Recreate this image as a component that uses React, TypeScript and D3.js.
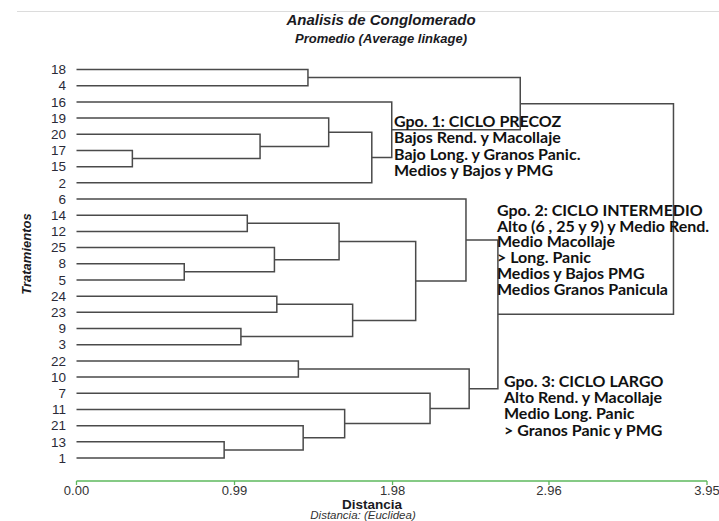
import React from "react";
import * as d3 from "d3";

const leaves = ["18","4","16","19","20","17","15","2","6","14","12","25","8","5","24","23","9","3","22","10","7","11","21","13","1"];

// [childA, childB, distance]; "mN" refers to the N-th merge
const merges: [string, string, number][] = [
  ["17", "15", 0.35],
  ["20", "m0", 1.15],
  ["19", "m1", 1.58],
  ["m2", "2", 1.85],
  ["16", "m3", 1.975],
  ["18", "4", 1.45],
  ["m5", "m4", 2.78],
  ["14", "12", 1.07],
  ["8", "5", 0.675],
  ["25", "m8", 1.24],
  ["m7", "m9", 1.645],
  ["24", "23", 1.255],
  ["9", "3", 1.03],
  ["m11", "m12", 1.73],
  ["m10", "m13", 2.125],
  ["6", "m14", 2.44],
  ["22", "10", 1.39],
  ["13", "1", 0.925],
  ["21", "m17", 1.42],
  ["11", "m18", 1.68],
  ["7", "m19", 2.215],
  ["m16", "m20", 2.46],
  ["m15", "m21", 2.64],
  ["m6", "m22", 3.74],
];

const tickValues = [0, 0.99, 1.98, 2.96, 3.95];

const group1 = ["Gpo. 1: CICLO PRECOZ", "Bajos Rend. y Macollaje", "Bajo Long. y Granos Panic.", "Medios y Bajos y PMG"];
const group2 = ["Gpo. 2: CICLO INTERMEDIO", "Alto (6 , 25 y 9) y Medio Rend.", "Medio Macollaje", "> Long. Panic", "Medios y Bajos PMG", "Medios Granos Panicula"];
const group3 = ["Gpo. 3: CICLO LARGO", "Alto Rend. y Macollaje", "Medio Long. Panic", "> Granos Panic y PMG"];

export default function App() {
  const W = 719, H = 521;
  const x = d3.scaleLinear().domain([0, 3.95]).range([76.5, 707]);
  const y = d3.scalePoint<string>().domain(leaves).range([69.5, 458]);

  const pos: Record<string, { x: number; y: number }> = {};
  leaves.forEach((l) => (pos[l] = { x: x(0), y: y(l)! }));
  const paths: string[] = [];
  merges.forEach(([a, b, h], i) => {
    const pa = pos[a], pb = pos[b];
    const xm = x(h);
    const p = d3.path();
    p.moveTo(pa.x, pa.y);
    p.lineTo(xm, pa.y);
    p.lineTo(xm, pb.y);
    p.lineTo(pb.x, pb.y);
    paths.push(p.toString());
    pos["m" + i] = { x: xm, y: (pa.y + pb.y) / 2 };
  });

  const annFont = "Lato, 'Open Sans', sans-serif";
  const txt = "#111";
  const axisY = 481;
  const green = "#5cb85c";

  return (
    <svg width={W} height={H} style={{ position: "absolute", left: 0, top: 0, background: "#fff" }} fontFamily="'Liberation Sans', Arial, sans-serif">
      <rect width={W} height={H} fill="#fff" />
      <line x1={17} x2={W} y1={11.5} y2={11.5} stroke="#dcdcdc" strokeWidth={1} />
      <text x={381} y={25} textAnchor="middle" fontSize={15} fontWeight="bold" fontStyle="italic" fill="#1a1a22">Analisis de Conglomerado</text>
      <text x={381} y={43} textAnchor="middle" fontSize={13} fontWeight="bold" fontStyle="italic" fill="#1a1a22">Promedio (Average linkage)</text>

      {leaves.map((l) => (
        <text key={l} x={66} y={y(l)!} dy="0.35em" textAnchor="end" fontSize={13.5} fill="#2a2a38">{l}</text>
      ))}

      <text transform={`translate(26,254) rotate(-90)`} textAnchor="middle" dy="0.35em" fontSize={13} fontWeight="bold" fontStyle="italic" fill="#1a1a22">Tratamientos</text>

      <g fill="none" stroke="#4a4a4a" strokeWidth={1.5}>
        {paths.map((d, i) => <path key={i} d={d} />)}
      </g>

      <g fontFamily={annFont} fontWeight={700} fontSize={16} fill={txt}>
        {group1.map((t, i) => <text key={t} x={394} y={127 + i * 16.3}>{t}</text>)}
        {group2.map((t, i) => <text key={t} x={497} y={216 + i * 15.7}>{t}</text>)}
        {group3.map((t, i) => <text key={t} x={504} y={387.2 + i * 16.1}>{t}</text>)}
      </g>

      <line x1={x(0)} x2={x(3.95)} y1={axisY} y2={axisY} stroke={green} strokeWidth={1.3} />
      {tickValues.map((v) => (
        <g key={v}>
          <line x1={x(v)} x2={x(v)} y1={axisY} y2={axisY + 4} stroke={green} strokeWidth={1.3} />
          <text x={x(v)} y={494.5} textAnchor="middle" fontSize={13} fill="#333">{v.toFixed(2)}</text>
        </g>
      ))}
      <text x={372} y={508.5} textAnchor="middle" fontSize={13.5} fontWeight="bold" fill="#1a1a22">Distancia</text>
      <text x={363} y={518.5} textAnchor="middle" fontSize={11.5} fontStyle="italic" fill="#333">Distancia: (Euclidea)</text>
    </svg>
  );
}
